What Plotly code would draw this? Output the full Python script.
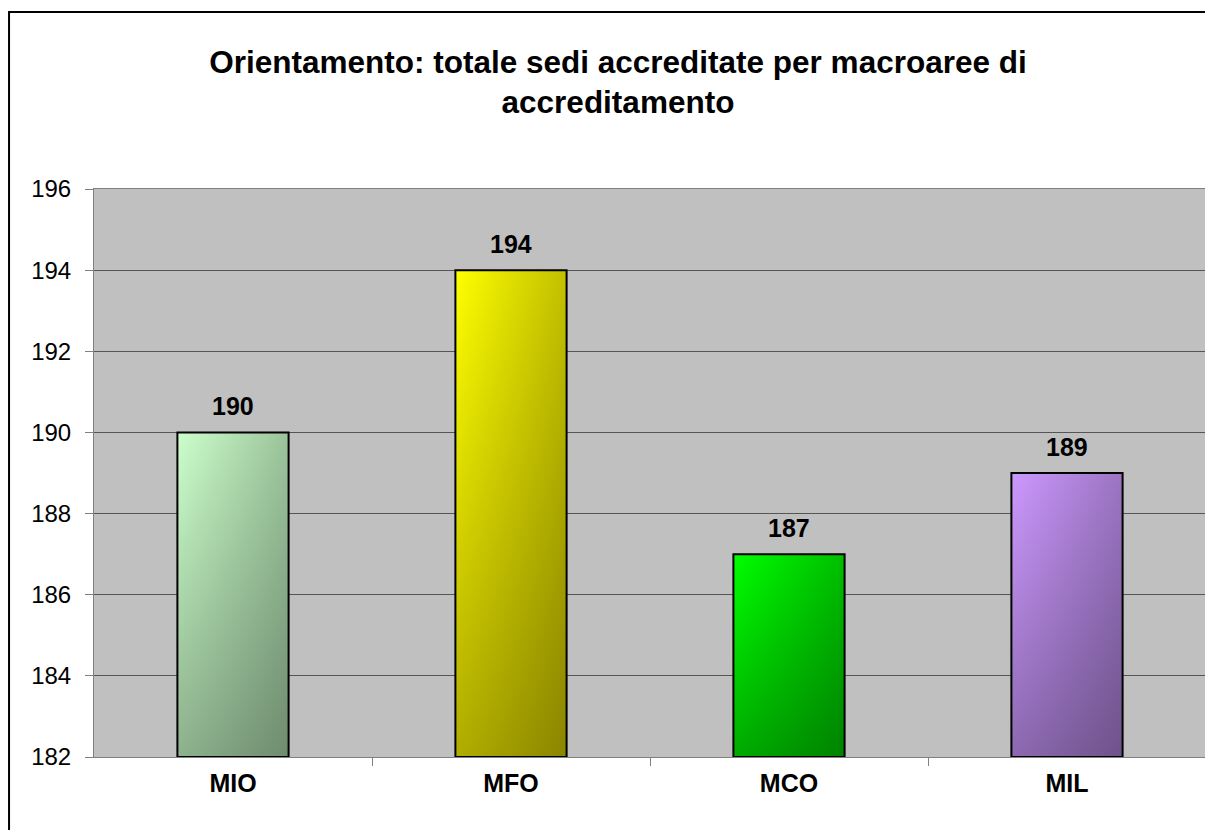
import plotly.graph_objects as go

categories = ["MIO", "MFO", "MCO", "MIL"]
values = [190, 194, 187, 189]
light_colors = ["#CCFFCC", "#FFFF00", "#00FF00", "#CC99FF"]
dark_colors = ["#587058", "#6E6800", "#006400", "#58406E"]
y_ticks = [182, 184, 186, 188, 190, 192, 194, 196]

y_floor = y_ticks[0]
bar_w = 0.4
font = "Liberation Sans, Arial, sans-serif"


def hex_rgb(h):
    h = h.lstrip("#")
    return tuple(int(h[i:i + 2], 16) for i in (0, 2, 4))


def mix(c1, c2, t):
    a, b = hex_rgb(c1), hex_rgb(c2)
    return tuple(min(255, max(0, round(a[i] + (b[i] - a[i]) * t))) for i in range(3))


fig = go.Figure()

# gradient fills (Excel-like diagonal shading): horizontal base + vertical darkening overlay
for i, (v, lc, dc) in enumerate(zip(values, light_colors, dark_colors)):
    xs = [i - bar_w / 2, i + bar_w / 2, i + bar_w / 2, i - bar_w / 2, i - bar_w / 2]
    ys = [y_floor, y_floor, v, v, y_floor]
    deep = mix(lc, dc, 1.5)
    fig.add_scatter(
        x=xs, y=ys, mode="lines", fill="toself", line=dict(width=0),
        fillgradient=dict(type="horizontal",
                          colorscale=[[0, lc], [1, "rgb(%d,%d,%d)" % mix(lc, dc, 1.5 * 0.28)]]),
        showlegend=False, hoverinfo="skip",
    )
    fig.add_scatter(
        x=xs, y=ys, mode="lines", fill="toself", line=dict(width=0),
        fillgradient=dict(type="vertical", colorscale=[[0, "rgba(%d,%d,%d,0.36)" % deep],
                                                       [1, "rgba(%d,%d,%d,0)" % deep]]),
        showlegend=False, hoverinfo="skip",
    )

# the bars themselves (outline) on an overlaid axis so they sit above the fills
fig.add_bar(
    x=list(range(len(categories))), y=[v - y_floor for v in values], base=y_floor,
    width=bar_w, marker=dict(color="rgba(0,0,0,0)", line=dict(color="black", width=2)),
    xaxis="x2", yaxis="y2", showlegend=False,
)

for i, v in enumerate(values):
    fig.add_annotation(
        x=i, y=v, text="<b>%d</b>" % v, showarrow=False, yanchor="bottom", yshift=10,
        font=dict(size=25, color="black", family=font),
    )

# outer chart border
fig.add_shape(type="rect", xref="paper", yref="paper",
              x0=-0.0764, x1=1.02, y0=-0.2, y1=1.3116,
              line=dict(color="black", width=2), fillcolor="rgba(0,0,0,0)", layer="below")

fig.update_layout(
    width=1205, height=822,
    margin=dict(l=86, r=7, t=181, b=73),
    paper_bgcolor="white", plot_bgcolor="#C0C0C0",
    font=dict(family=font, color="black", size=24),
    title=dict(text="<b>Orientamento: totale sedi accreditate per macroaree di<br>accreditamento</b>",
               x=0.5062, xanchor="center", y=0.9215, yanchor="middle",
               font=dict(size=31.5, family=font, color="black")),
    xaxis=dict(range=[-0.5, len(categories) - 0.5], tickvals=list(range(len(categories))),
               ticktext=["<b>%s</b>" % c for c in categories], ticks="",
               tickfont=dict(size=25),
               showgrid=False, zeroline=False, showline=True, linecolor="#808080",
               linewidth=1, mirror=True, ticklabelstandoff=4,
               minor=dict(tickvals=[i + 0.5 for i in range(len(categories) - 1)],
                          ticks="outside", ticklen=8, tickcolor="#808080", showgrid=False)),
    yaxis=dict(range=[y_ticks[0], y_ticks[-1]], tickvals=y_ticks, ticks="outside", ticklen=8,
               tickcolor="#808080", showgrid=True, gridcolor="#555555", gridwidth=1,
               tickfont=dict(size=24),
               zeroline=False, showline=True, linecolor="#808080", linewidth=1, mirror=True,
               ticklabelstandoff=9),
    xaxis2=dict(overlaying="x", range=[-0.5, len(categories) - 0.5], visible=False),
    yaxis2=dict(overlaying="y", range=[y_ticks[0], y_ticks[-1]], visible=False),
)

fig.write_html("out.html")
